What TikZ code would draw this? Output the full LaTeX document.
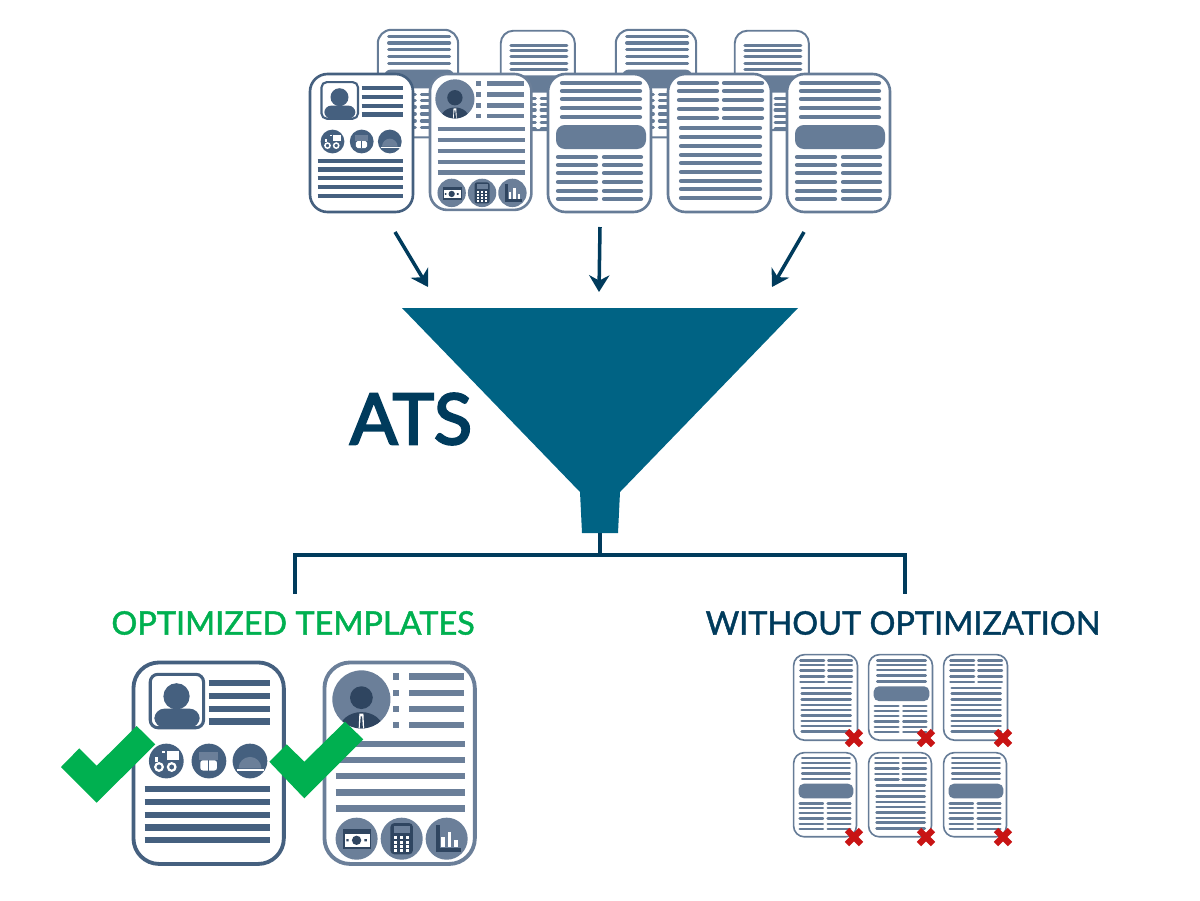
\documentclass[tikz,border=0pt]{standalone}
\usetikzlibrary{arrows.meta}
\usepackage{fontspec}
\setmainfont{Lato}
\newfontfamily\labelfont[FakeBold=1.4]{Lato}
\newfontfamily\bigfont[FakeBold=3.2]{Lato}
\definecolor{funnelblue}{HTML}{006384}
\definecolor{navy}{HTML}{003B5C}
\definecolor{okgreen}{HTML}{00B050}
\definecolor{badred}{HTML}{C81414}
\definecolor{slate}{HTML}{45607F}
\definecolor{steel}{HTML}{6B7F99}
\definecolor{ink}{HTML}{2F4560}
\definecolor{sheetblue}{HTML}{667C97}
\tikzset{
  sheet/.style={draw=#1,fill=white,line width=\k*1.5pt,rounded corners=\k*10pt},
  bar/.style={line width=\k*2.4pt,line cap=round},
  sqbar/.style={line width=\k*2.45pt},
  thinwhite/.style={white,line width=\k*.85pt},
  flowarrow/.style={-{Stealth[length=9.5pt,width=11.5pt,inset=3pt]},navy,line width=2pt},
  branch/.style={navy,line width=2.3pt},
  heading/.style={font=\labelfont\fontsize{18.45}{22}\selectfont}
}
% Sheets have a local frame of 105 x 140.
\newcommand{\bannerlines}[3]{%
  \begin{scope}[shift={(#1,#2)},x=#3*.02cm,y=-#3*.02cm]
    \def\k{#3}
    \foreach \y in {10,18,26,35,44} \draw[bar,sheetblue] (15,\y) -- (93,\y);
    \fill[sheetblue,rounded corners=\k*5pt] (9,52) rectangle (99,76);
    \foreach \y in {84,92,100,109,118,126} {
      \draw[bar,sheetblue] (11,\y) -- (49,\y);
      \draw[bar,sheetblue] (57,\y) -- (94,\y);
    }
  \end{scope}}
\newcommand{\sheetframe}[3]{%
  \begin{scope}[shift={(#1,#2)},x=#3*.02cm,y=-#3*.02cm]
    \def\k{#3}
    \draw[sheet=sheetblue] (1,1) rectangle (104,139);
  \end{scope}}
\newcommand{\bannersheet}[3]{\sheetframe{#1}{#2}{#3}\bannerlines{#1}{#2}{#3}}
\newcommand{\columnsheet}[3]{%
  \begin{scope}[shift={(#1,#2)},x=#3*.02cm,y=-#3*.02cm]
    \def\k{#3}
    \draw[sheet=sheetblue] (1,1) rectangle (104,139);
    \foreach \y in {10,18,27,36,45} {
      \draw[bar,sheetblue] (12,\y) -- (50,\y);
      \draw[bar,sheetblue] (57,\y) -- (95,\y);
    }
    \foreach \y in {55,64,73,82,90,99,108,116,125} \draw[bar,sheetblue] (14,\y) -- (93,\y);
  \end{scope}}
\newcommand{\photosheet}[3]{%
  \begin{scope}[shift={(#1,#2)},x=#3*.02cm,y=-#3*.02cm]
    \def\k{#3}
    \draw[sheet=slate] (1,1) rectangle (104,139);
    \draw[slate,fill=white,line width=\k*1.2pt,rounded corners=\k*3pt] (12.5,9.1) rectangle (49,45.7);
    \fill[slate] (30.5,24.2) circle[radius=9];
    \fill[slate,rounded corners=\k*4pt] (15.3,45.7) rectangle (46.4,32.6);
    \foreach \y in {15.3,24,32.9,41.5} \draw[sqbar,slate] (52.5,\y) -- (94.3,\y);
    \foreach \x in {23.5,52.7,80.8} \fill[slate] (\x,68.5) circle[radius=11.9];
    % cart
    \fill[white] (24.2,61.9) rectangle (32.4,67.6);
    \fill[white] (20.8,61.6) rectangle (22.8,63);
    \fill[white] (16,65.5) rectangle (17.6,69);
    \draw[thinwhite] (18.5,72.6) circle[radius=2.6] (27.2,72.6) circle[radius=2.6];
    % cup
    \fill[steel] (46.2,62.3) rectangle (59,68);
    \fill[white,rounded corners=\k*1pt] (46.8,68) rectangle (58.2,75);
    \draw[slate,line width=\k*.4pt] (52.5,68) -- (52.5,75);
    % cloche
    \fill[steel] (73,73.5) arc[start angle=180,end angle=360,radius=7.8] -- cycle;
    \draw[thinwhite] (71.6,74.5) -- (90.5,74.5);
    \foreach \y in {87.7,96.6,105.3,114,122.8} \draw[sqbar,slate] (8.7,\y) -- (94.3,\y);
  \end{scope}}
\newcommand{\portraitsheet}[3]{%
  \begin{scope}[shift={(#1,#2)},x=#3*.02cm,y=-#3*.02cm]
    \def\k{#3}
    \draw[sheet=steel] (1,1) rectangle (104,139);
    \fill[steel] (26.3,26.3) circle[radius=19.9];
    \begin{scope}
      \clip (26.3,26.3) circle[radius=19.9];
      \fill[ink] (26.3,47) ellipse[x radius=15,y radius=12];
      \fill[white] (24.9,36) -- (27.7,36) -- (28.2,47) -- (24.4,47) -- cycle;
      \fill[ink] (25.8,38) -- (26.8,38) -- (27.4,47) -- (25.2,47) -- cycle;
    \end{scope}
    \fill[ink] (26.3,25.1) circle[radius=7.8];
    \foreach \y in {10.7,21.9,32.9,43.8} {
      \fill[steel] (47.8,\y-2.2) rectangle (52.3,\y+2.2);
      \draw[sqbar,steel] (59,\y) -- (96.6,\y);
    }
    \foreach \y in {57,68,79,90,101} \draw[sqbar,steel] (8.7,\y) -- (97,\y);
    \foreach \x in {23,53.9,84.7} \fill[steel] (\x,121.7) circle[radius=14.4];
    % banknote
    \fill[ink] (13.7,115.3) rectangle (33.2,128.5);
    \fill[white] (14.8,118.6) rectangle (32.1,127.4);
    \fill[ink] (23,122.8) circle[radius=3.2];
    \fill[ink] (16,122) rectangle (17.6,123.6) (28.4,122) rectangle (30,123.6);
    % calculator
    \fill[ink,rounded corners=\k*1.5pt] (46.2,111) rectangle (61.6,132.4);
    \fill[steel] (48.4,113) rectangle (59.4,117.6);
    \foreach \x in {49.8,53.9,58} \foreach \y in {120.9,124,127,130}
      \fill[white] (\x-1,\y-1) rectangle (\x+1,\y+1);
    % chart
    \draw[ink,line width=\k*1.3pt] (78.8,112.6) -- (78.8,129.4) -- (94.5,129.4);
    \fill[white] (80.8,120.5) rectangle (83.4,127.5);
    \fill[white] (85.4,117) rectangle (88,127.5);
    \fill[white] (90,122.7) rectangle (92.5,127.5);
  \end{scope}}
\newcommand{\crossmark}[2]{%
  \draw[badred,line width=3.6pt] (#1-7,#2-7) -- (#1+7,#2+7) (#1-7,#2+7) -- (#1+7,#2-7);}

\begin{document}
\begin{tikzpicture}[x=.02cm,y=-.02cm]
  \useasboundingbox (0,0) rectangle (1200,900);

  % Back row of sheets.
  \bannersheet{377}{29}{.78}
  \sheetframe{500}{30}{.72}
  \bannerlines{500}{38}{.72}
  \bannersheet{615}{29}{.78}
  \sheetframe{734}{30}{.72}
  \bannerlines{734}{38}{.72}

  % Front row.
  \photosheet{309}{73}{1}
  \portraitsheet{429}{73}{.985}
  \bannersheet{547}{73}{1}
  \columnsheet{667}{73}{1}
  \bannersheet{786}{73}{1}

  % Arrows into the funnel.
  \coordinate (inL) at (395,232);
  \coordinate (inM) at (600,227);
  \coordinate (inR) at (804,232);
  \coordinate (mouthL) at (428,287);
  \coordinate (mouthM) at (599,292);
  \coordinate (mouthR) at (772,287);
  \draw[flowarrow] (inL) -- (mouthL);
  \draw[flowarrow] (inM) -- (mouthM);
  \draw[flowarrow] (inR) -- (mouthR);

  % Funnel.
  \fill[funnelblue] (402,308) -- (798,308) -- (620,492) -- (618,533) -- (582,533) -- (580,492) -- cycle;
  \node[navy,font=\bigfont\fontsize{40}{46}\selectfont] (atslabel) at (411,419) {ATS};

  % Split below the spout.
  \coordinate (spout) at (600,533);
  \coordinate (split) at (600,555);
  \coordinate (goodend) at (295,594);
  \coordinate (badend) at (905,594);
  \draw[branch] (spout) -- (split);
  \draw[branch] (goodend) |- (split) -| (badend);

  \node[heading,okgreen] (goodlabel) at (293,623) {OPTIMIZED TEMPLATES};
  \node[heading,navy] (badlabel) at (903,623) {WITHOUT OPTIMIZATION};

  % Accepted sheets.
  \photosheet{132}{661}{1.46}
  \portraitsheet{323}{661}{1.46}
  \fill[okgreen] (61,767) -- (79.3,748.3) -- (96.7,765.7) -- (136.7,726) -- (155.3,744.3) -- (96.7,802.7) -- cycle;
  \fill[okgreen] (269.3,761.7) -- (286.7,744.3) -- (304.3,761.7) -- (345,721.7) -- (363.3,739.3) -- (304.3,798.3) -- cycle;

  % Rejected sheets.
  \columnsheet{793}{654}{.62}
  \bannersheet{868}{654}{.62}
  \columnsheet{943}{654}{.62}
  \bannersheet{793}{752}{.61}
  \columnsheet{868}{752}{.61}
  \bannersheet{943}{752}{.61}
  \foreach \x in {854,926,1003} \foreach \y in {738,837} {\crossmark{\x}{\y}}
\end{tikzpicture}
\end{document}
